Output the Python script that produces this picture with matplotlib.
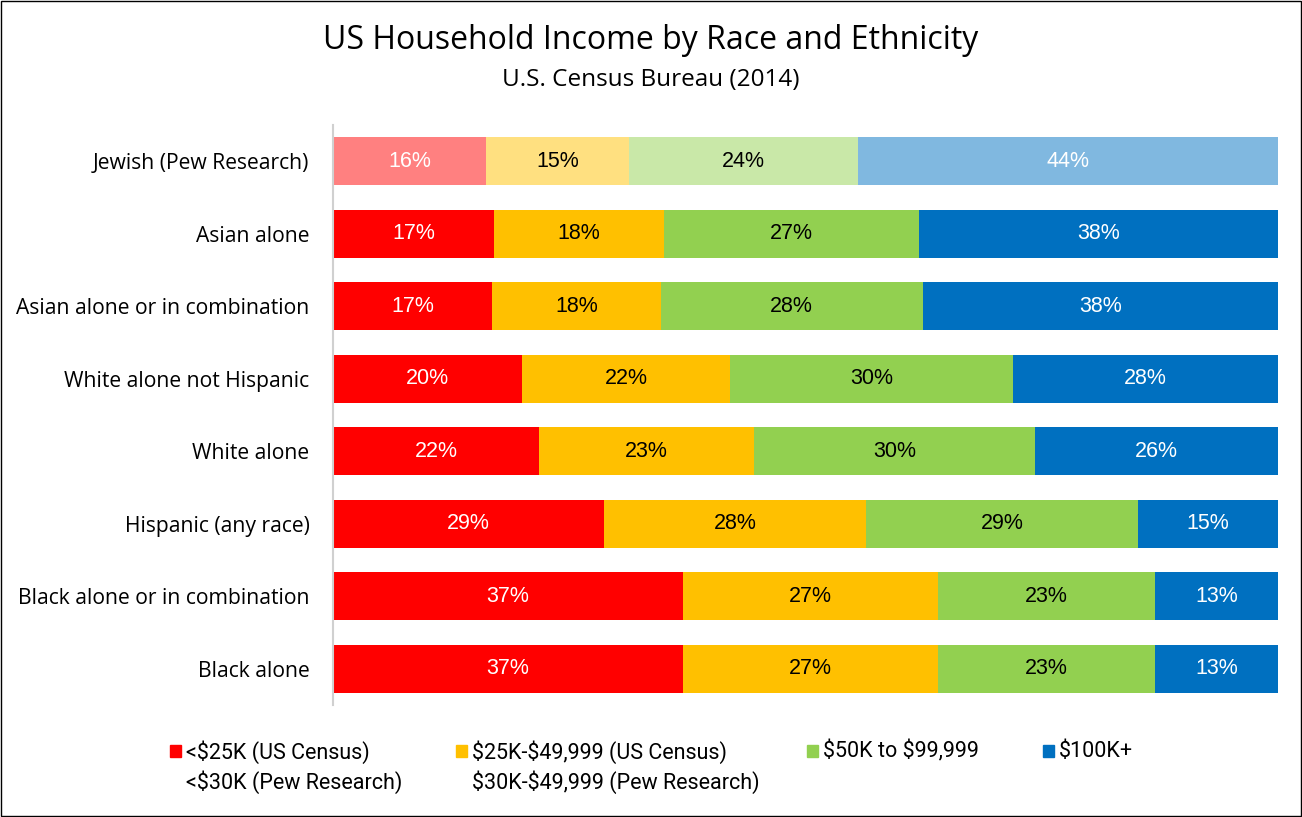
import matplotlib.pyplot as plt
from matplotlib.colors import to_rgb

# rows, top to bottom
groups = ['Jewish (Pew Research)', 'Asian alone', 'Asian alone or in combination',
          'White alone not Hispanic', 'White alone', 'Hispanic (any race)',
          'Black alone or in combination', 'Black alone']
under_25k = [16, 17, 17, 20, 22, 29, 37, 37]
k25_50 = [15, 18, 18, 22, 23, 28, 27, 27]
k50_100 = [24, 27, 28, 30, 30, 29, 23, 23]
over_100k = [44, 38, 38, 28, 26, 15, 13, 13]

series = [under_25k, k25_50, k50_100, over_100k]
colors = ['#FF0000', '#FFC000', '#92D050', '#0070C0']
text_colors = ['white', 'black', 'black', 'white']
legend_labels = ['<\\$25K (US Census)\n<\\$30K (Pew Research)',
                 '\\$25K-\\$49,999 (US Census)\n\\$30K-\\$49,999 (Pew Research)',
                 '\\$50K to \\$99,999',
                 '\\$100K+']
legend_x = [0.1306, 0.3502, 0.6198, 0.8011]


def lighter(c):
    r, g, b = to_rgb(c)
    return ((r + 1) / 2, (g + 1) / 2, (b + 1) / 2)


fig = plt.figure(figsize=(13.02, 8.17), dpi=100)
ax = fig.add_axes([0.2558, 0.137, 0.7258, 0.710])

n = len(groups)
ypos = list(range(n))
totals = [sum(s[i] for s in series) for i in range(n)]
left = [0.0] * n
for k, s in enumerate(series):
    widths = [s[i] / totals[i] for i in range(n)]
    cols = [lighter(colors[k]) if groups[i].startswith('Jewish') else colors[k] for i in range(n)]
    ax.barh(ypos, widths, left=left, height=0.66, color=cols, edgecolor='none')
    for i in range(n):
        ax.text(left[i] + widths[i] / 2, ypos[i], f'{s[i]}%', ha='center', va='center',
                color=text_colors[k], fontsize=15.5, family='Liberation Sans')
    left = [left[i] + widths[i] for i in range(n)]

ax.set_xlim(0, 1)
ax.set_ylim(n - 0.5, -0.5)
ax.set_yticks(ypos)
ax.set_yticklabels(groups, fontsize=15.2, family='Open Sans')
ax.set_xticks([])
ax.tick_params(axis='y', length=0, pad=17)
for sp in ['top', 'right', 'bottom']:
    ax.spines[sp].set_visible(False)
ax.spines['left'].set_color('#D0D0D0')
ax.spines['left'].set_linewidth(1.5)

fig.text(0.5, 0.950, 'US Household Income by Race and Ethnicity', ha='center', va='center',
         fontsize=23, family='Open Sans')
fig.text(0.5, 0.902, 'U.S. Census Bureau (2014)', ha='center', va='center',
         fontsize=17.5, family='Open Sans')

# legend, drawn by hand so the swatch sits on the first line
for k in range(4):
    fig.patches.append(plt.Rectangle((legend_x[k], 0.0734), 0.0085, 0.0150,
                                     transform=fig.transFigure, color=colors[k]))
    fig.text(legend_x[k] + 0.0125, 0.0935, legend_labels[k], ha='left', va='top',
             fontsize=15.5, family='Roboto', linespacing=1.35)

fig.patches.append(plt.Rectangle((0.001, 0.001), 0.998, 0.998, transform=fig.transFigure,
                                 fill=False, edgecolor='black', linewidth=1))
fig.savefig('out.png', dpi=100)
